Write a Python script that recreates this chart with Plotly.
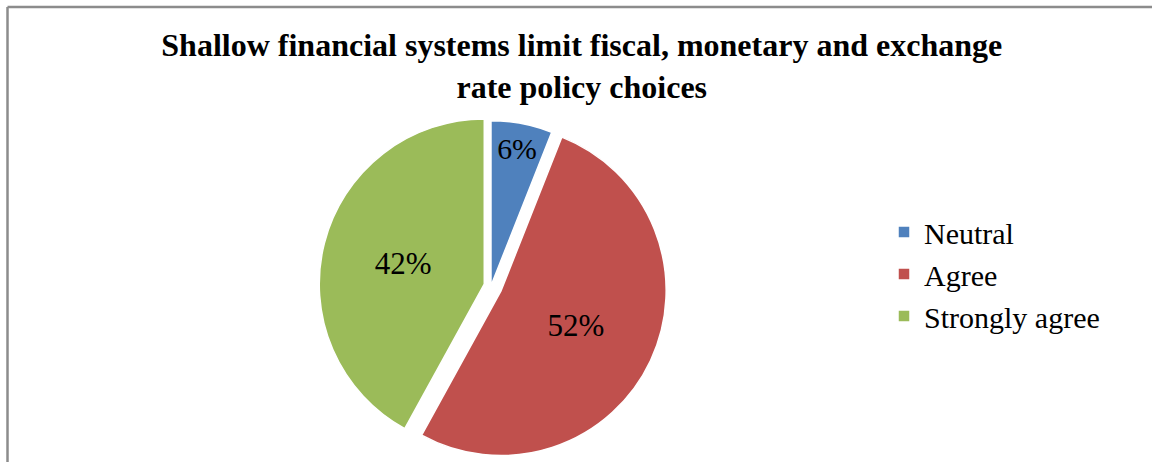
import plotly.graph_objects as go

# Survey responses (share of respondents)
categories = ["Neutral", "Agree", "Strongly agree"]
shares = [6, 52, 42]
colors = ["#4F81BD", "#C0504D", "#9BBB59"]
pulls = [0.0, 0.068, 0.042]

title_text = ("<b>Shallow financial systems limit fiscal, monetary and exchange"
              "<br>rate policy choices</b>")

W, H = 1152, 462
serif = "Liberation Serif"

label_font = dict(family="Times New Roman, Liberation Serif, serif", size=31, color="black")

fig = go.Figure(
    go.Pie(
        labels=categories,
        values=shares,
        sort=False,
        direction="clockwise",
        rotation=0,
        pull=pulls,
        marker=dict(colors=colors, line=dict(color="white", width=1.5)),
        texttemplate="%{percent:.0%}",
        textposition="inside",
        insidetextorientation="horizontal",
        textfont=label_font,
        insidetextfont=label_font,
        domain=dict(x=[0.2732, 0.5792], y=[0.0, 0.763]),
        hoverinfo="label+percent",
    )
)

# Chart frame (top and left edges)
frame = dict(color="#8c8c8c", width=2.5)
fig.add_shape(type="line", xref="paper", yref="paper",
              x0=7.5 / W, x1=1.0, y0=1 - 7 / H, y1=1 - 7 / H, line=frame)
fig.add_shape(type="line", xref="paper", yref="paper",
              x0=7.5 / W, x1=7.5 / W, y0=0.0, y1=1 - 7 / H, line=frame)

fig.update_layout(
    width=W,
    height=H,
    margin=dict(l=0, r=0, t=0, b=0),
    paper_bgcolor="white",
    plot_bgcolor="white",
    font=dict(family=serif, size=31, color="black"),
    title=dict(
        text=title_text,
        x=0.505,
        xanchor="center",
        y=1 - 56 / H,
        yanchor="top",
        font=dict(family=serif, size=32, color="black"),
    ),
    legend=dict(
        x=884 / W,
        y=1 - 206 / H,
        xanchor="left",
        yanchor="top",
        font=dict(family=serif, size=30, color="black"),
        bgcolor="rgba(0,0,0,0)",
    ),
    showlegend=True,
)

fig.write_html("out.html")
